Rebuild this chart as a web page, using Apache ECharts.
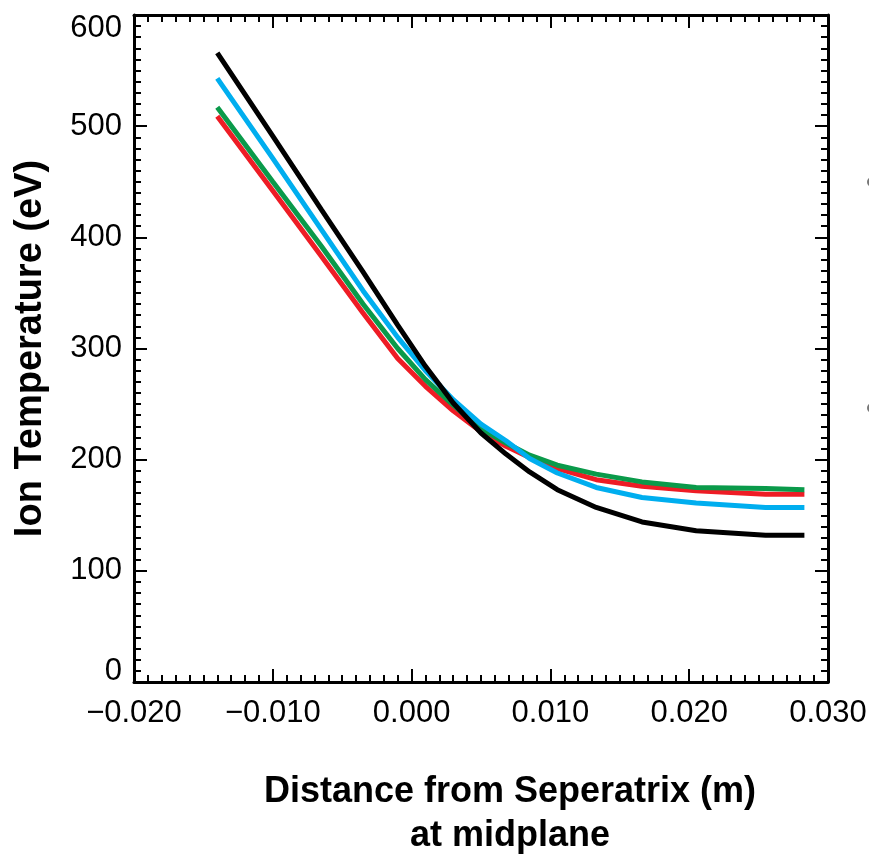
<!DOCTYPE html>
<html>
<head>
<meta charset="utf-8">
<script src="https://cdn.jsdelivr.net/npm/echarts@6/dist/echarts.min.js"></script>
<style>
  html, body { margin: 0; padding: 0; background: #fff; }
  #ion-temperature-chart { width: 869px; height: 855px; }
</style>
</head>
<body>
<div id="ion-temperature-chart"></div>
<script>
// distance from separatrix at midplane (m), shared grid of all four runs
const distances = [-0.0140, -0.0100, -0.0065, -0.0035, -0.0010, 0.0010, 0.0030, 0.0050,
  0.0068, 0.0085, 0.0105, 0.0133, 0.0166, 0.0205, 0.0255, 0.0283];

// ion temperature (eV)
const blackTemps = [566, 491, 425, 369, 321, 284, 251, 224, 205, 189, 173, 157, 144, 136, 132, 132];
const blueTemps = [543, 471, 407, 352, 310, 280, 254, 232, 217, 201, 188, 175, 166, 161, 157, 157];
const greenTemps = [517, 450, 392, 340, 300, 272, 249, 228, 215, 204, 195, 187, 180, 175, 174, 173];
const redTemps = [509, 442, 383, 332, 291, 266, 244, 225, 212, 202, 192, 182, 176, 172, 169, 169];

const xTicks = [-0.02, 0.03, 0.01];   // min, max, step
const yTicks = [0, 600, 100];

const chart = echarts.init(document.getElementById('ion-temperature-chart'));

const pairs = (ys) => distances.map((x, i) => [x, ys[i]]);

const tickStyle = { color: '#000', width: 2 };
const tickFont = { fontFamily: 'Liberation Sans, Arial, sans-serif', fontSize: 31, color: '#000' };
const titleFont = { fontFamily: 'Liberation Sans, Arial, sans-serif', fontWeight: 'bold', color: '#000' };

function xAxisOf(position, withLabels) {
  return {
    type: 'value',
    position: position,
    min: xTicks[0],
    max: xTicks[1],
    interval: xTicks[2],
    axisLine: { show: true, onZero: false, lineStyle: { color: '#000', width: 3 } },
    axisTick: { show: true, inside: true, length: 13, lineStyle: tickStyle },
    minorTick: { show: true, splitNumber: 10, length: 7, lineStyle: tickStyle },
    splitLine: { show: false },
    axisLabel: {
      show: withLabels,
      margin: 16,
      ...tickFont,
      formatter: (v) => (v < 0 ? '\u2212' : '') + Math.abs(v).toFixed(3)
    },
    name: withLabels ? 'Distance from Seperatrix (m)\nat midplane' : '',
    nameLocation: 'middle',
    nameGap: 88,
    nameTextStyle: { ...titleFont, fontSize: 36, lineHeight: 44, padding: [0, 0, 0, 58] }
  };
}

function yAxisOf(position, withLabels) {
  return {
    type: 'value',
    position: position,
    min: yTicks[0],
    max: yTicks[1],
    interval: yTicks[2],
    axisLine: { show: true, onZero: false, lineStyle: { color: '#000', width: 3 } },
    axisTick: { show: true, inside: true, length: 13, lineStyle: tickStyle },
    minorTick: { show: true, splitNumber: 10, length: 7, lineStyle: tickStyle },
    splitLine: { show: false },
    axisLabel: {
      show: withLabels,
      margin: 12,
      ...tickFont,
      // end labels sit inside the frame, as in the original plot
      formatter: (v) => v === yTicks[0] ? '{lo|' + v + '}' : v === yTicks[1] ? '{hi|' + v + '}' : String(v),
      rich: {
        lo: { ...tickFont, padding: [0, 0, 22, 0] },
        hi: { ...tickFont, padding: [26, 0, 0, 0] }
      }
    },
    name: withLabels ? 'Ion Temperature (eV)' : '',
    nameLocation: 'middle',
    nameGap: 84,
    nameTextStyle: { ...titleFont, fontSize: 38 }
  };
}

function run(name, color, ys) {
  return {
    name: name,
    type: 'line',
    data: pairs(ys),
    showSymbol: false,
    symbol: 'none',
    lineStyle: { color: color, width: 5 },
    itemStyle: { color: color },
    emphasis: { disabled: true },
    z: 2
  };
}

const option = {
  animation: false,
  grid: { left: 134, right: 41, top: 15, bottom: 173, containLabel: false, outerBoundsMode: 'none' },
  xAxis: [xAxisOf('bottom', true), xAxisOf('top', false)],
  yAxis: [yAxisOf('left', true), yAxisOf('right', false)],
  series: [
    run('red', '#ee1c25', redTemps),
    run('green', '#0a9a4a', greenTemps),
    run('blue', '#00aeef', blueTemps),
    run('black', '#000000', blackTemps)
  ],
  graphic: [
    { type: 'circle', shape: { cx: 872, cy: 182, r: 5 }, style: { fill: '#777' } },
    { type: 'circle', shape: { cx: 872, cy: 408, r: 5 }, style: { fill: '#777' } }
  ]
};

chart.setOption(option);
</script>
</body>
</html>
